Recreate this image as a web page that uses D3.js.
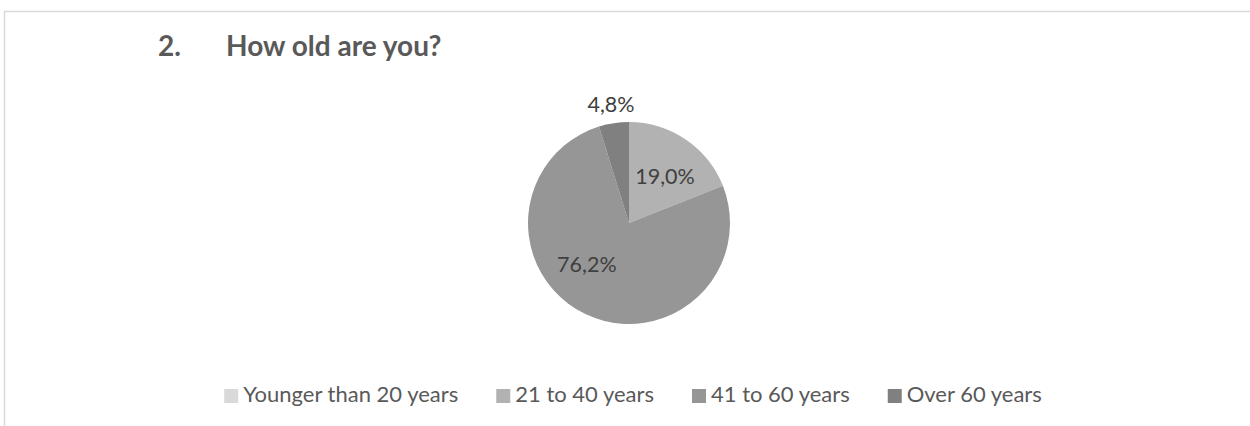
<!DOCTYPE html>
<html>
<head>
<meta charset="utf-8">
<script src="https://cdn.jsdelivr.net/npm/d3@7"></script>
<style>
  html, body { margin: 0; padding: 0; background: #fff; }
  svg { display: block; }
</style>
</head>
<body>
<svg id="chart" width="1250" height="426"></svg>
<script>
// ---- data ----
const categories = ["Younger than 20 years", "21 to 40 years", "41 to 60 years", "Over 60 years"];
const values = [0.0, 19.0, 76.2, 4.8];
const labels = ["0,0%", "19,0%", "76,2%", "4,8%"];
const colors = ["#d9d9d9", "#b2b2b2", "#969696", "#808080"];
const titleNumber = "2.";
const titleText = "How old are you?";

// ---- layout ----
const FONT = "Lato, 'Open Sans', sans-serif";
const TXT = "#595959";
const cx = 629, cy = 223, R = 101;

const svg = d3.select("#chart");

// border of the chart area
svg.append("rect")
  .attr("x", 4.5).attr("y", 11.5)
  .attr("width", 1400).attr("height", 600)
  .attr("fill", "none").attr("stroke", "#d9d9d9").attr("stroke-width", 1.5);

// title
svg.append("text").attr("x", 158).attr("y", 56)
  .attr("font-family", FONT).attr("font-weight", "bold").attr("font-size", 28)
  .attr("fill", TXT).text(titleNumber);
svg.append("text").attr("x", 226).attr("y", 56)
  .attr("font-family", FONT).attr("font-weight", "bold").attr("font-size", 28)
  .attr("fill", TXT).text(titleText);

// pie
const pie = d3.pie().sort(null).value(d => d)(values);
const arc = d3.arc().innerRadius(0).outerRadius(R);
const g = svg.append("g").attr("transform", `translate(${cx},${cy})`);
g.selectAll("path").data(pie).join("path")
  .attr("d", arc)
  .attr("fill", (d, i) => colors[i]);

// labels: inside at ~0.6R, small slices outside
const labelNudge = [[0, 0], [2, 3], [-16, -14], [0, 0]];
g.selectAll("text.lbl").data(pie.filter(d => d.data > 0)).join("text")
  .attr("class", "lbl")
  .each(function (d) {
    const i = d.index;
    const mid = (d.startAngle + d.endAngle) / 2;
    const frac = d.endAngle - d.startAngle;
    const r = frac < 0.5 ? R + 19 : R * 0.6;
    const x = Math.sin(mid) * r + labelNudge[i][0];
    const y = -Math.cos(mid) * r + labelNudge[i][1];
    d3.select(this)
      .attr("x", x).attr("y", y)
      .attr("text-anchor", "middle")
      .attr("dominant-baseline", "central")
      .attr("font-family", FONT).attr("font-size", 21.5)
      .attr("fill", "#404040")
      .text(labels[i]);
  });

// legend
const legend = svg.append("g");
const sw = 14, gapSwText = 5, gapItems = 38, legendBaseline = 402, legendCenter = 633;
const items = legend.selectAll("g").data(categories).join("g");
items.append("rect").attr("width", sw).attr("height", sw)
  .attr("y", legendBaseline - 13).attr("fill", (d, i) => colors[i]);
items.append("text")
  .attr("x", sw + gapSwText).attr("y", legendBaseline)
  .attr("font-family", FONT).attr("font-size", 22)
  .attr("fill", TXT).text(d => d);
let widths = [];
items.each(function () {
  widths.push(sw + gapSwText + d3.select(this).select("text").node().getComputedTextLength());
});
const total = d3.sum(widths) + gapItems * (widths.length - 1);
let xpos = legendCenter - total / 2;
items.each(function (d, i) {
  d3.select(this).attr("transform", `translate(${xpos},0)`);
  xpos += widths[i] + gapItems;
});
</script>
</body>
</html>
